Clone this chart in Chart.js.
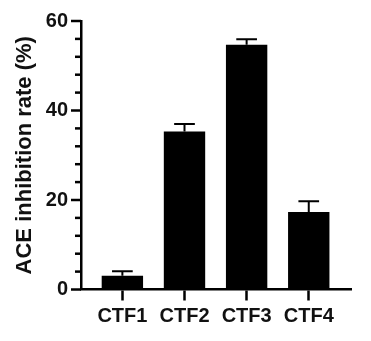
<!DOCTYPE html>
<html>
<head>
<meta charset="utf-8">
<script src="https://cdn.jsdelivr.net/npm/chart.js@4/dist/chart.umd.min.js"></script>
<style>
html,body{margin:0;padding:0;background:#fff;}
#wrap{width:371px;height:341px;}
</style>
</head>
<body>
<div id="wrap"><canvas id="c" width="371" height="341"></canvas></div>
<script>
const categories = ['CTF1', 'CTF2', 'CTF3', 'CTF4'];
const inhibition = [3.1, 35.3, 54.7, 17.3];
const errors = [1.0, 1.7, 1.2, 2.4];
const yTickLabels = [0, 20, 40, 60];

const FONT = "'Liberation Sans', Arial, Helvetica, sans-serif";

const errorBars = {
  id: 'errorBars',
  afterDatasetsDraw(chart) {
    const ctx = chart.ctx;
    const meta = chart.getDatasetMeta(0);
    const ys = chart.scales.y;
    ctx.save();
    ctx.strokeStyle = '#000';
    ctx.lineWidth = 2;
    meta.data.forEach((bar, i) => {
      const top = ys.getPixelForValue(inhibition[i] + errors[i]);
      const half = bar.width / 4;
      ctx.beginPath();
      ctx.moveTo(bar.x, bar.y);
      ctx.lineTo(bar.x, top);
      ctx.moveTo(bar.x - half, top);
      ctx.lineTo(bar.x + half, top);
      ctx.stroke();
    });
    ctx.restore();
  }
};

const yTicks = {
  id: 'yTicks',
  afterDraw(chart) {
    const ctx = chart.ctx;
    const ys = chart.scales.y;
    const x0 = ys.right;
    ctx.save();
    ctx.strokeStyle = '#000';
    ctx.lineWidth = 2.5;
    ys.ticks.forEach(t => {
      const y = ys.getPixelForValue(t.value);
      const len = yTickLabels.includes(t.value) ? 10 : 6;
      ctx.beginPath();
      ctx.moveTo(x0 - len, y);
      ctx.lineTo(x0, y);
      ctx.stroke();
    });
    ctx.restore();
  }
};

new Chart(document.getElementById('c'), {
  type: 'bar',
  data: {
    datasets: [{
      data: categories.map((c, i) => ({ x: i, y: inhibition[i] })),
      backgroundColor: '#000',
      borderWidth: 0,
      barPercentage: 0.666,
      categoryPercentage: 1
    }]
  },
  options: {
    responsive: false,
    animation: false,
    events: [],
    layout: { padding: { top: 21, right: 20, bottom: 0, left: 0 } },
    plugins: { legend: { display: false }, tooltip: { enabled: false } },
    scales: {
      x: {
        type: 'linear',
        offset: false,
        min: -0.666,
        max: 3.68,
        bounds: 'data',
        afterBuildTicks(s) { s.ticks = categories.map((c, i) => ({ value: i })); },
        afterFit(s) { s.height = 51.5; s.paddingLeft = 0; s.paddingRight = 0; },
        grid: { display: true, offset: false, drawOnChartArea: false, drawTicks: true, tickLength: 11, tickWidth: 2.5, tickColor: '#000' },
        border: { display: true, color: '#000', width: 2.5 },
        ticks: {
          autoSkip: false,
          maxRotation: 0,
          padding: 4,
          color: '#111',
          font: { family: FONT, size: 20, weight: 'bold' },
          callback: (v) => categories[v] ?? ''
        }
      },
      y: {
        min: 0,
        max: 60,
        afterFit(s) { s.width = 81; s.paddingTop = 0; s.paddingBottom = 0; },
        grid: { display: false, drawTicks: false },
        border: { display: true, color: '#000', width: 2.5 },
        ticks: {
          stepSize: 4,
          autoSkip: false,
          padding: 13,
          color: '#111',
          font: { family: FONT, size: 20, weight: 'bold' },
          callback: (v) => yTickLabels.includes(v) ? String(v) : ''
        },
        title: {
          display: true,
          text: 'ACE inhibition rate (%)',
          color: '#111',
          padding: { top: 12, bottom: 0 },
          font: { family: FONT, size: 22, weight: 'bold' }
        }
      }
    }
  },
  plugins: [errorBars, yTicks]
});
</script>
</body>
</html>
